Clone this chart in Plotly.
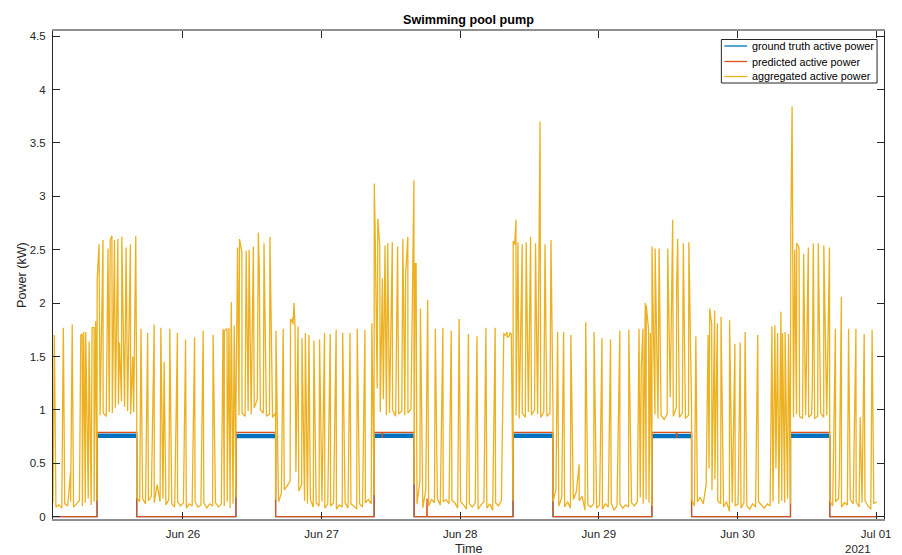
import pandas as pd
import plotly.graph_objects as go

T0 = pd.Timestamp("2021-06-25 00:00")

# ---- pump ON periods (hours after 2021-06-25 00:00) ----
on_start_h = [9.13, 33.17, 57.09, 81.14, 105.18, 129.17]
on_end_h = [16.00, 40.04, 64.01, 88.06, 112.05, 135.97]
data_start_h = 1.50
data_end_h = 144.10

# ground truth / predicted level during ON periods (kW)
gt_on_kw = [0.758, 0.756, 0.757, 0.758, 0.756, 0.757]
pred_on_kw = [0.79, 0.79, 0.79, 0.79, 0.79, 0.79]
pred_blip_h = [58.52, 66.25, 109.47]
pred_blip_kw = [0.74, 0.17, 0.74]

# ---- aggregated power: base level per segment (kW) ----
agg_off0 = [0.13, 0.09, 0.11, 0.08, 0.12, 0.10, 0.14, 0.09, 0.12, 0.15, 0.10, 0.13, 0.17, 0.11, 0.14, 0.15]
agg_on1 = [0.96, 0.95, 0.97, 0.94, 0.98, 0.97, 1.02, 1.05, 1.08, 1.03, 0.99, 0.96, 0.98, 1.00]
agg_off1 = [0.18, 0.14, 0.17, 0.12, 0.15, 0.19, 0.13, 0.30, 0.14, 0.17, 0.11, 0.16, 0.12, 0.09, 0.14,
            0.10, 0.13, 0.08, 0.12, 0.10, 0.14, 0.09, 0.11, 0.13, 0.08, 0.12, 0.10, 0.13, 0.09, 0.12,
            0.10, 0.14, 0.08, 0.12, 0.18]
agg_on2 = [0.98, 0.95, 0.97, 0.94, 0.99, 0.96, 1.02, 1.10, 1.00, 0.97, 0.94, 0.96, 0.93, 0.97]
agg_off2 = [0.16, 0.14, 0.22, 0.25, 0.29, 0.33, 1.80, 0.42, 0.24, 0.30, 0.15, 0.12, 0.16, 0.09, 0.13,
            0.10, 0.14, 0.08, 0.12, 0.10, 0.13, 0.07, 0.11, 0.09, 0.13, 0.08, 0.12, 0.10, 0.07, 0.12,
            0.09, 0.13, 0.16, 0.12, 0.20]
agg_on3 = [1.05, 1.20, 0.98, 1.10, 0.95, 0.97, 1.00, 0.94, 0.96, 0.99, 0.95, 0.97, 1.01, 1.03]
agg_off3 = [0.30, 0.12, 0.33, 0.08, 0.25, 0.10, 0.16, 0.13, 0.17, 0.11, 0.14, 0.16, 0.12, 0.15, 0.13,
            0.08, 0.14, 0.11, 0.07, 0.12, 0.09, 0.13, 0.07, 0.11, 0.14, 0.08, 0.12, 0.06, 0.13, 0.10,
            0.15, 1.70, 1.68, 1.72, 0.15]
agg_on4 = [1.02, 0.95, 0.92, 0.97, 0.93, 0.98, 0.95, 1.00, 0.96, 0.93, 0.98, 0.94, 0.97, 1.00]
agg_off4 = [0.14, 0.25, 0.10, 0.18, 0.09, 0.14, 0.08, 0.16, 0.23, 0.15, 0.19, 0.06, 0.11, 0.09, 0.12,
            0.08, 0.11, 0.07, 0.12, 0.09, 0.13, 0.06, 0.10, 0.12, 0.08, 0.11, 0.09, 0.13, 0.10, 0.14,
            0.18, 0.12, 0.16, 0.13, 0.10]
agg_on5 = [0.93, 0.96, 0.92, 0.95, 0.91, 0.96, 1.12, 0.94, 1.02, 0.93, 0.97, 0.92, 0.95, 1.00]
agg_off5 = [0.16, 0.10, 0.14, 0.18, 0.12, 0.30, 0.45, 0.25, 0.35, 0.15, 0.12, 0.09, 0.14, 0.05, 0.13,
            0.10, 0.12, 0.08, 0.13, 0.10, 0.07, 0.12, 0.09, 0.14, 0.11, 0.08, 0.12, 0.10, 0.14, 0.45,
            0.12, 0.15, 0.13, 0.17, 0.12]
agg_on6 = [0.97, 0.93, 0.96, 0.94, 0.92, 0.95, 0.93, 0.96, 0.92, 0.94, 0.97, 0.93, 0.95, 0.92]
agg_off6 = [0.15, 0.10, 0.14, 0.17, 0.09, 0.13, 0.11, 0.16, 0.12, 0.14, 0.09, 0.13, 0.15, 0.10, 0.07, 0.12, 0.14]

# ---- aggregated power: short appliance spikes (hour, kW) ----
spike_h = [
    1.74, 3.29, 4.54, 4.83, 6.31, 6.55, 6.83, 7.17, 7.75, 8.27, 8.61, 8.89,
    9.15, 9.47, 10.16, 11.02, 11.41, 11.70, 12.15, 12.73, 13.01, 13.42, 14.16, 14.90, 15.31, 15.83,
    16.74, 17.89, 19.02, 20.17, 20.74, 21.72, 23.04, 24.46, 26.01, 27.50, 29.22, 30.94, 31.16,
    31.63, 31.97, 32.36, 32.88,
    33.45, 33.79, 34.20, 34.94, 35.45, 36.19, 37.05, 37.22, 38.03, 39.06,
    40.10, 41.35, 42.62, 42.80, 42.98, 43.23, 43.40, 43.92, 44.61, 45.19, 45.81, 46.67, 47.65,
    48.51, 49.49, 50.52, 51.65, 52.92, 54.17, 55.50, 56.70,
    57.12, 57.26, 57.73, 58.07, 58.52, 58.98, 59.45, 60.24, 61.16, 62.07, 62.54, 62.93, 63.79, 63.98,
    64.20, 64.36, 65.11, 66.37, 67.69, 69.00, 70.44, 71.81, 73.41, 74.90, 76.45, 78.05,
    79.54, 79.85, 80.11, 80.45, 80.84,
    81.17, 81.43, 81.65, 81.99, 82.73, 83.42, 84.18, 85.03, 85.82, 86.68, 87.71,
    88.86, 89.90, 91.15, 92.59, 93.72, 95.17, 96.54, 98.02, 99.63, 101.18, 102.95, 103.34,
    103.63, 104.03, 104.20, 104.61, 104.92,
    105.20, 105.74, 106.43, 107.93, 108.78, 109.47, 109.64, 110.62, 111.58,
    112.79, 114.92, 115.19, 115.53, 116.05, 116.51, 117.15, 118.63, 119.55, 120.46, 121.32,
    123.50, 125.96, 126.47, 126.94, 127.51, 127.80, 128.24, 128.83,
    129.22, 129.45, 129.91, 130.25, 130.65, 131.45, 132.26, 132.95, 133.12, 133.98, 134.94, 135.92,
    136.95, 137.64, 137.98, 139.23, 140.50, 141.24, 141.93, 143.30,
]
spike_kw = [
    1.70, 1.77, 0.42, 1.80, 1.70, 1.71, 1.73, 1.73, 1.64, 1.77, 1.77, 1.83,
    2.22, 2.55, 2.59, 2.51, 2.59, 2.63, 2.59, 2.60, 1.63, 2.62, 2.52, 2.55, 1.50, 2.63,
    1.76, 1.72, 1.80, 1.77, 1.45, 1.76, 1.72, 1.66, 1.68, 1.74, 1.70, 1.76, 1.74,
    1.76, 1.77, 2.01, 1.79,
    2.52, 2.60, 2.48, 2.49, 2.50, 2.53, 2.66, 2.30, 2.56, 2.62,
    1.74, 1.76, 1.85, 1.82, 1.86, 2.00, 1.78, 1.78, 1.67, 1.72, 1.70, 1.65, 1.66,
    1.72, 1.71, 1.75, 1.72, 1.72, 1.76, 1.75, 1.81,
    3.12, 2.72, 2.79, 2.54, 2.23, 2.54, 2.56, 2.57, 2.53, 2.60, 2.27, 2.62, 2.68, 3.15,
    2.37, 2.37, 1.95, 2.03, 1.76, 1.77, 1.74, 1.85, 1.71, 1.69, 1.77, 1.77,
    1.72, 1.70, 1.73, 1.69, 1.71,
    2.58, 2.55, 2.78, 2.57, 2.55, 2.57, 2.62, 2.56, 3.70, 2.55, 2.59,
    1.73, 1.73, 1.70, 0.49, 1.82, 1.73, 1.67, 1.66, 1.74, 1.75, 1.76, 1.40,
    1.76, 2.00, 1.98, 1.75, 1.72,
    2.53, 2.51, 2.51, 2.51, 2.78, 2.17, 2.60, 2.56, 2.57,
    1.69, 1.70, 1.95, 1.80, 1.93, 1.81, 1.87, 1.84, 1.62, 1.63, 1.73,
    1.70, 1.78, 1.79, 1.72, 1.92, 1.72, 1.73, 1.71,
    2.67, 3.84, 2.50, 2.56, 2.52, 2.46, 2.52, 1.20, 2.56, 2.56, 2.54, 2.52,
    1.76, 0.41, 2.06, 1.76, 1.76, 0.93, 1.71, 1.75,
]

legend_names = ["ground truth active power", "predicted active power", "aggregated active power"]
y_tick_vals = [0, 0.5, 1, 1.5, 2, 2.5, 3, 3.5, 4, 4.5]
y_tick_text = ["0", "0.5", "1", "1.5", "2", "2.5", "3", "3.5", "4", "4.5"]
x_tick_dates = ["2021-06-26", "2021-06-27", "2021-06-28", "2021-06-29", "2021-06-30", "2021-07-01"]
x_tick_text = ["Jun 26", "Jun 27", "Jun 28", "Jun 29", "Jun 30", "Jul 01"]


def to_time(hours):
    return [(T0 + pd.Timedelta(hours=h)).strftime("%Y-%m-%d %H:%M:%S") for h in hours]


def step_series(levels, blip_h=(), blip_kw=()):
    pts = [(data_start_h, 0.0)]
    for s, e, v in zip(on_start_h, on_end_h, levels):
        pts += [(s, 0.0), (s, v), (e, v), (e, 0.0)]
    pts.append((data_end_h, 0.0))
    for h, v in zip(blip_h, blip_kw):
        lvl = 0.0
        for s, e, L in zip(on_start_h, on_end_h, levels):
            if s < h < e:
                lvl = L
        pts += [(h - 0.04, lvl), (h, v), (h + 0.04, lvl)]
    pts.sort(key=lambda p: p[0])
    return [p[0] for p in pts], [p[1] for p in pts]


gt_h, gt_v = step_series(gt_on_kw)
pr_h, pr_v = step_series(pred_on_kw, pred_blip_h, pred_blip_kw)

bounds = [data_start_h]
for s, e in zip(on_start_h, on_end_h):
    bounds += [s, e]
bounds.append(data_end_h)
segments = [agg_off0, agg_on1, agg_off1, agg_on2, agg_off2, agg_on3, agg_off3,
            agg_on4, agg_off4, agg_on5, agg_off5, agg_on6, agg_off6]
agg_pts = []
for i, seg in enumerate(segments):
    a, b = bounds[i], bounds[i + 1]
    n = len(seg)
    for k, v in enumerate(seg):
        agg_pts.append((a + (b - a) * k / (n - 1), v))
agg_pts += list(zip(spike_h, spike_kw))
agg_pts.sort(key=lambda p: p[0])
agg_h = [p[0] for p in agg_pts]
agg_v = [p[1] for p in agg_pts]

BLUE = "#0072BD"
RED = "#D95319"
YEL = "#EDB120"
COLORS = [BLUE, RED, YEL]

fig = go.Figure()
for s, e, v in zip(on_start_h, on_end_h, gt_on_kw):
    fig.add_trace(go.Scatter(x=to_time([s, e]), y=[v, v], mode="lines",
                             line=dict(color=BLUE, width=4.5), showlegend=False,
                             hoverinfo="skip"))
fig.add_trace(go.Scatter(x=to_time(gt_h), y=gt_v, mode="lines", name=legend_names[0],
                         line=dict(color=BLUE, width=1.2), showlegend=False))
fig.add_trace(go.Scatter(x=to_time(pr_h), y=pr_v, mode="lines", name=legend_names[1],
                         line=dict(color=RED, width=1.3), showlegend=False))
fig.add_trace(go.Scatter(x=to_time(agg_h), y=agg_v, mode="lines", name=legend_names[2],
                         line=dict(color=YEL, width=1.3), showlegend=False))

FONT = "Liberation Sans, Arial, Helvetica, sans-serif"
PL, PR, PT, PB = 53, 891, 31, 519  # plot box in pixels


def px(x):
    return (x - PL) / (PR - PL)


def py(y):
    return (PB - y) / (PB - PT)


shapes = [dict(type="rect", xref="paper", yref="paper", x0=px(727), x1=px(884),
               y0=py(83), y1=py(39.5), line=dict(color="#262626", width=1),
               fillcolor="white", layer="above")]
annotations = []
row_y = [46.0, 61.5, 76.5]
for name, col, ry in zip(legend_names, COLORS, row_y):
    shapes.append(dict(type="line", xref="paper", yref="paper", x0=px(730), x1=px(753),
                       y0=py(ry), y1=py(ry), line=dict(color=col, width=1.3), layer="above"))
    annotations.append(dict(text=name, xref="paper", yref="paper", x=px(756), y=py(ry),
                            xanchor="left", yanchor="middle", showarrow=False,
                            font=dict(size=10.8, color="#000000", family=FONT)))

annotations += [
    dict(text="<b>Swimming pool pump</b>", xref="paper", yref="paper", x=0.5, y=1,
         xanchor="center", yanchor="bottom", yshift=2, showarrow=False,
         font=dict(size=12.6, color="#000000", family=FONT)),
    dict(text="Time", xref="paper", yref="paper", x=0.5, y=0, xanchor="center",
         yanchor="top", yshift=-21, showarrow=False, font=dict(size=12.6, color="#262626", family=FONT)),
    dict(text="2021", xref="paper", yref="paper", x=px(880), y=0, xanchor="right",
         yanchor="top", yshift=-22, showarrow=False, font=dict(size=11.5, color="#262626", family=FONT)),
    dict(text="Power (kW)", xref="paper", yref="paper", x=0, y=0.5, xanchor="center",
         yanchor="middle", xshift=-31, textangle=-90, showarrow=False,
         font=dict(size=12.6, color="#262626", family=FONT)),
]

fig.update_layout(
    width=902, height=555,
    margin=dict(l=PL, r=902 - PR, t=PT, b=555 - PB),
    paper_bgcolor="white", plot_bgcolor="white",
    font=dict(family=FONT, size=11.5, color="#262626"),
    showlegend=False,
    shapes=shapes,
    annotations=annotations,
)
fig.update_xaxes(
    type="date",
    range=to_time([1.503, 145.36]),
    tickvals=[d + " 00:00:00" for d in x_tick_dates], ticktext=x_tick_text,
    ticks="inside", ticklen=7, tickcolor="#262626", tickwidth=1,
    showline=True, linecolor="#8f8f8f", linewidth=1.5, mirror="ticks",
    showgrid=False, zeroline=False, ticklabelstandoff=3,
)
fig.update_yaxes(
    range=[-0.022, 4.548], tickvals=y_tick_vals, ticktext=y_tick_text,
    ticks="inside", ticklen=7, tickcolor="#262626", tickwidth=1,
    showline=True, linecolor="#262626", linewidth=1, mirror="ticks",
    showgrid=False, zeroline=False, ticklabelstandoff=4,
)

fig.write_html("out.html", config={"displayModeBar": False},
               post_script="document.body.style.margin='0px';document.body.style.overflow='hidden';")
